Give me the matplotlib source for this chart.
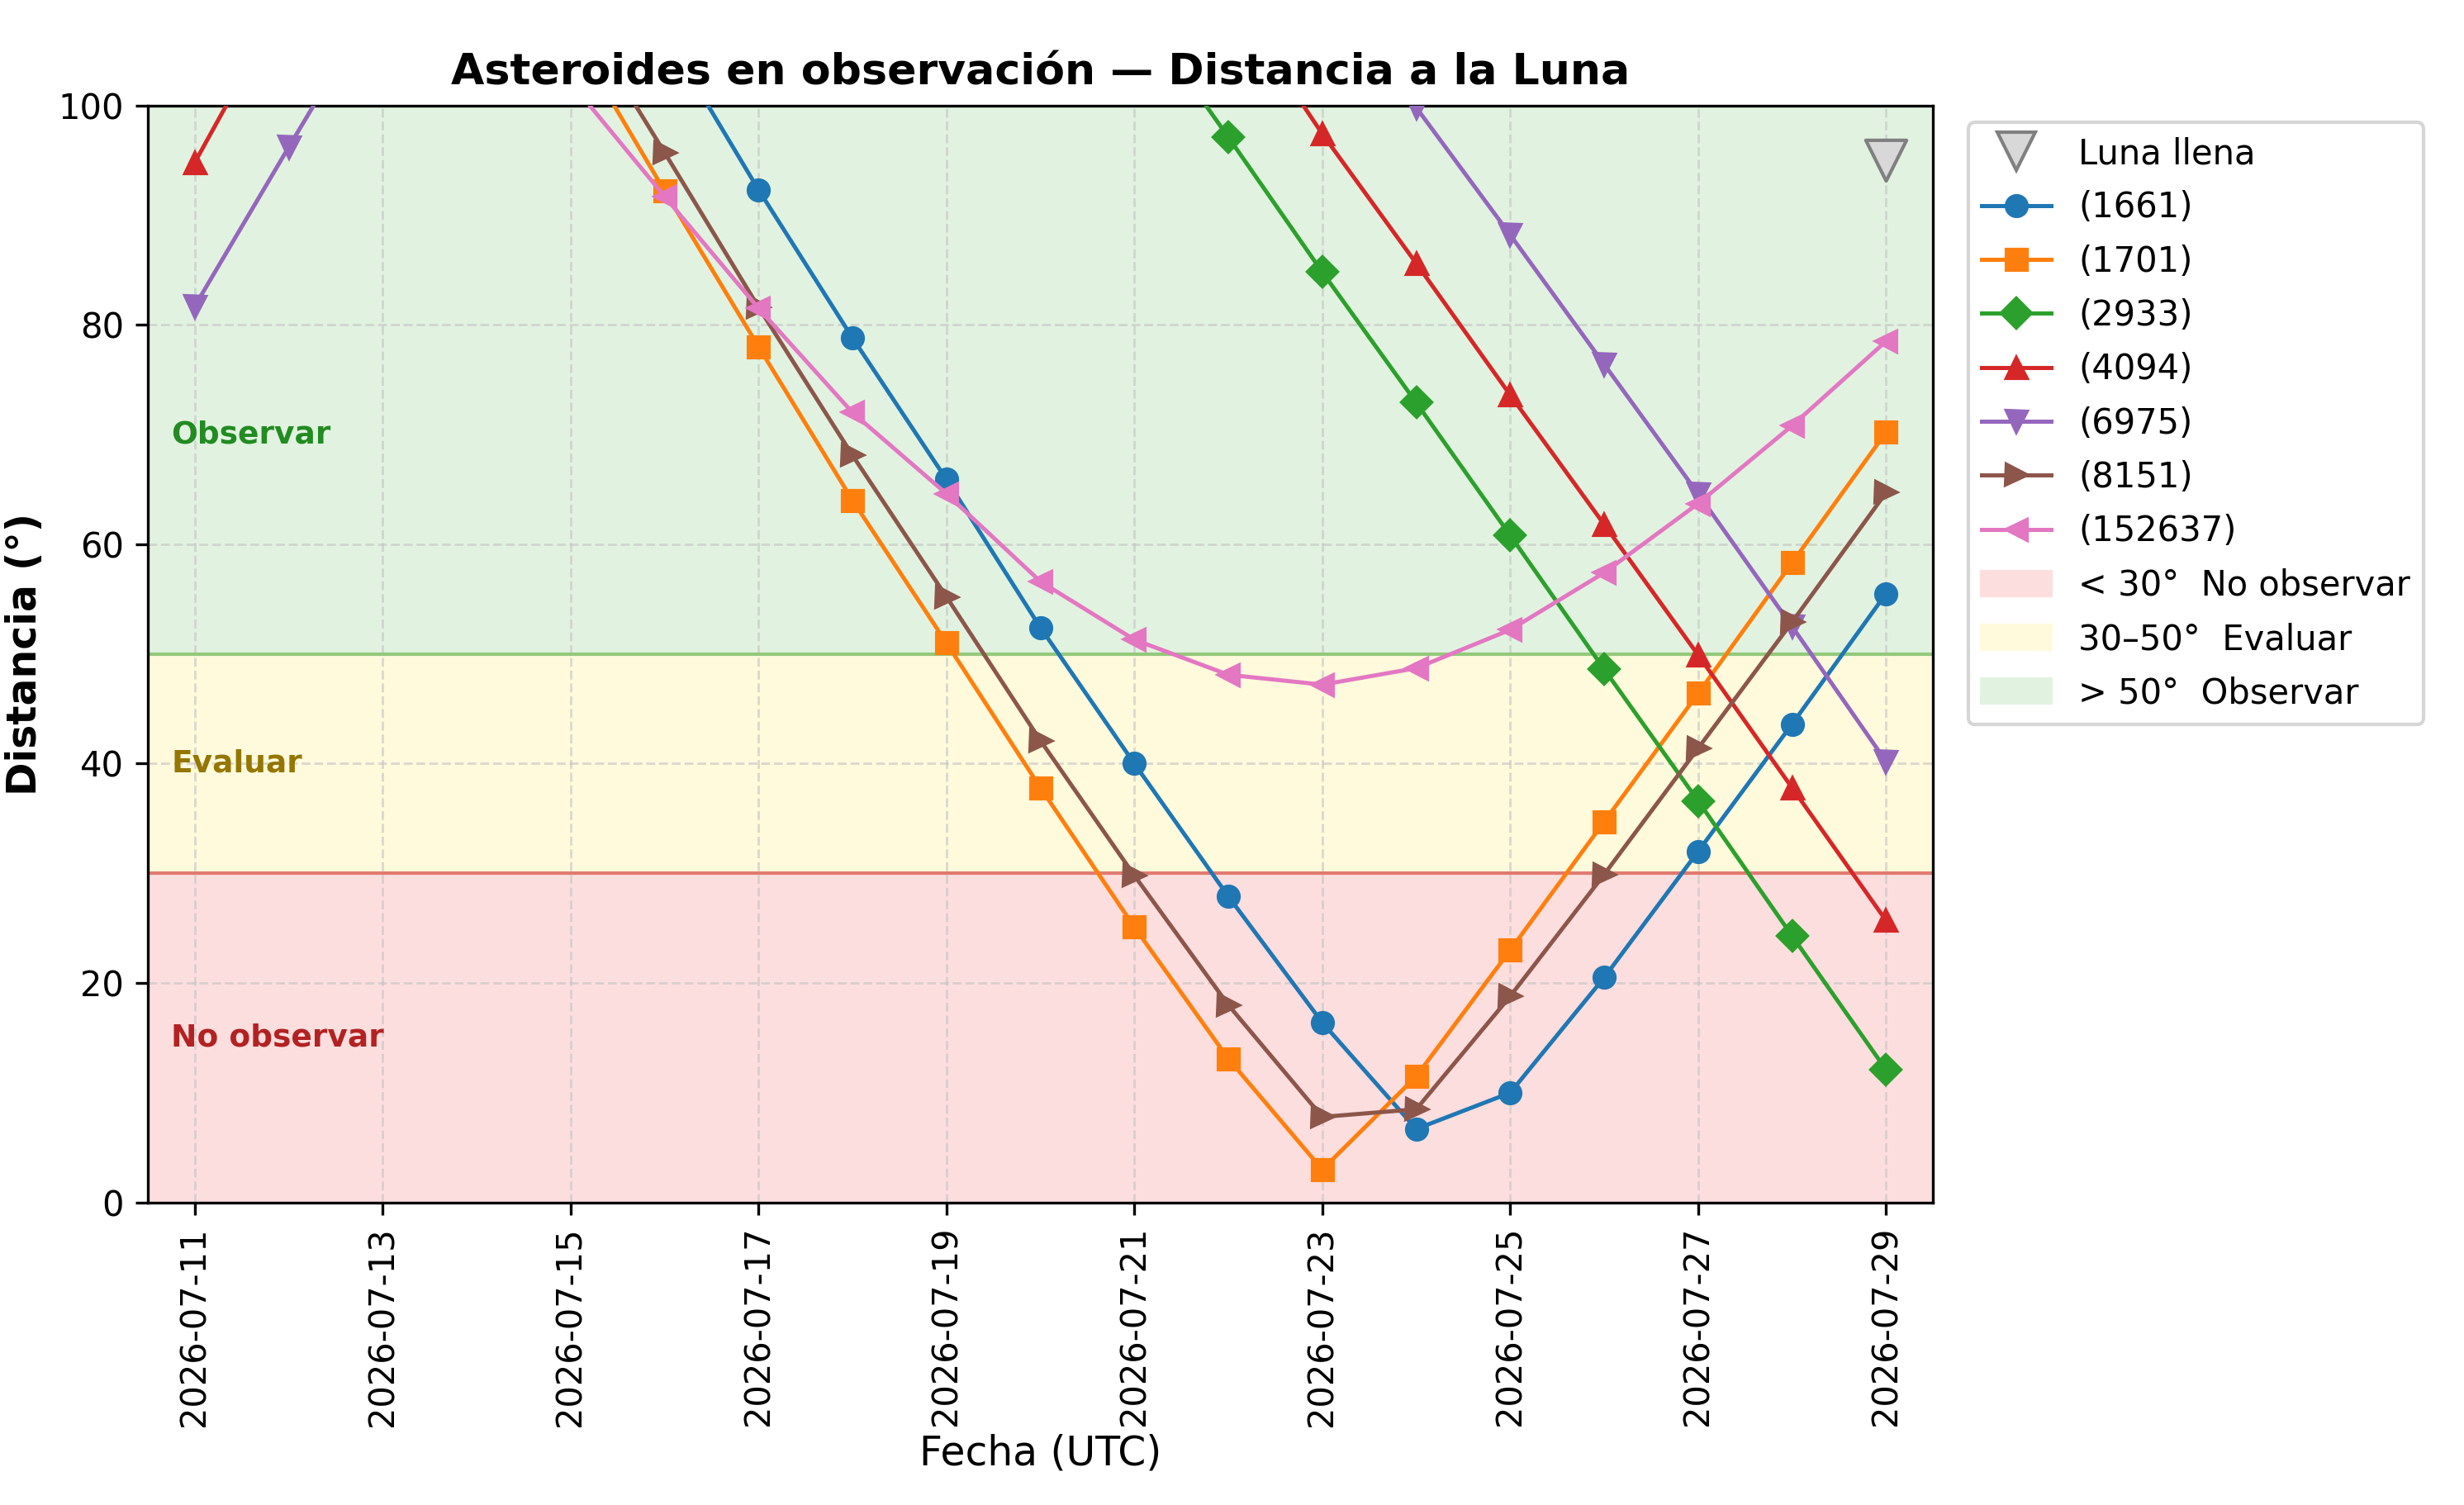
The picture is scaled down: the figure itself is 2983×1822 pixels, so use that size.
# Distancia angular asteroide-Luna, julio 2026
import matplotlib
matplotlib.use("Agg")
from matplotlib import pyplot as plt
import matplotlib.dates as mdates
from matplotlib.patches import Patch
from matplotlib.lines import Line2D
import numpy as np
import pandas as pd

fechas = pd.date_range("2026-07-11", "2026-07-29", freq="D")

# distancia a la Luna (grados), un valor por día
d_1661 = [168, 158, 147, 134, 121, 106.6, 92.3, 78.8, 65.9, 52.4, 40.0, 27.9, 16.4, 6.7, 10.0, 20.5, 32.0, 43.6, 55.5]
d_1701 = [160, 150, 138, 123, 106.7, 92.2, 78.0, 64.0, 51.0, 37.8, 25.1, 13.1, 3.0, 11.5, 23.0, 34.7, 46.4, 58.3, 70.2]
d_2933 = [170, 172, 171, 167, 161, 154, 146, 138, 129, 120, 109.2, 97.1, 84.8, 72.9, 60.8, 48.6, 36.6, 24.3, 12.1]
d_4094 = [94.8, 110.3, 124, 136, 146, 153, 156, 155, 149, 140, 124, 110.2, 97.4, 85.6, 73.6, 61.8, 49.9, 37.8, 25.7]
d_6975 = [81.7, 96.2, 110.5, 124, 136, 146, 152, 153, 149, 141, 131, 121, 111.6, 99.8, 88.2, 76.4, 64.6, 52.5, 40.2]
d_8151 = [165, 152, 138, 124, 109.6, 95.7, 81.6, 68.1, 55.2, 42.1, 29.8, 18.0, 7.8, 8.5, 18.8, 29.9, 41.4, 52.9, 64.7]
d_152637 = [150, 138, 126, 114, 102.1, 91.7, 81.5, 72.0, 64.6, 56.6, 51.3, 48.1, 47.2, 48.7, 52.2, 57.4, 63.7, 70.8, 78.5]

nombres = ["(1661)", "(1701)", "(2933)", "(4094)", "(6975)", "(8151)", "(152637)"]
series = [d_1661, d_1701, d_2933, d_4094, d_6975, d_8151, d_152637]
marcadores = ["o", "s", "D", "^", "v", ">", "<"]

luna_llena = pd.Timestamp("2026-07-29")
luna_y = 95

fig = plt.figure(figsize=(2983 / 300, 1822 / 300), dpi=300)
ax = fig.add_axes([0.060, 0.201, 0.7245, 0.729])

c_rojo = "#fddede"
c_amarillo = "#fffadc"
c_verde = "#e1f3e0"
ax.axhspan(0, 30, color=c_rojo, zorder=0, lw=0)
ax.axhspan(30, 50, color=c_amarillo, zorder=0, lw=0)
ax.axhspan(50, 100, color=c_verde, zorder=0, lw=0)
ax.axhline(30, color="#e07a70", lw=1, zorder=1)
ax.axhline(50, color="#93c97c", lw=1, zorder=1)

ax.grid(True, linestyle="--", color="#c4c4c4", alpha=0.6, lw=0.7, zorder=1)
ax.set_axisbelow(True)

for nombre, valores, m in zip(nombres, series, marcadores):
    ax.plot(fechas, valores, marker=m, ms=6, lw=1.2, label=nombre, zorder=3)

ax.scatter([luna_llena], [luna_y], marker="v", s=140, facecolor="#d8d8d8",
           edgecolor="#808080", lw=1, zorder=4)

trans = ax.get_yaxis_transform()
ax.text(0.013, 70, "Observar", transform=trans, color="#228b22",
        fontsize=9, fontweight="bold", va="center")
ax.text(0.013, 40, "Evaluar", transform=trans, color="#947600",
        fontsize=9, fontweight="bold", va="center")
ax.text(0.013, 15, "No observar", transform=trans, color="#b22222",
        fontsize=9, fontweight="bold", va="center")

ax.set_ylim(0, 100)
ax.set_xlim(pd.Timestamp("2026-07-10 12:00"), pd.Timestamp("2026-07-29 12:00"))
ax.xaxis.set_major_locator(mdates.DayLocator(interval=2))
ax.xaxis.set_major_formatter(mdates.DateFormatter("%Y-%m-%d"))
plt.setp(ax.get_xticklabels(), rotation=90)
ax.tick_params(labelsize=10)

ax.set_title("Asteroides en observación — Distancia a la Luna",
             fontsize=12.5, fontweight="bold")
ax.set_xlabel("Fecha (UTC)", fontsize=11.7, labelpad=2)
ax.set_ylabel("Distancia (°)", fontsize=11.7, fontweight="bold")

handles, labels = ax.get_legend_handles_labels()
luna_h = Line2D([], [], marker="v", ls="none", ms=11, markerfacecolor="#d8d8d8",
                markeredgecolor="#808080")
zonas = [Patch(color=c_rojo, label="< 30°  No observar"),
         Patch(color=c_amarillo, label="30–50°  Evaluar"),
         Patch(color=c_verde, label="> 50°  Observar")]
ax.legend([luna_h] + handles + zonas,
          ["Luna llena"] + labels + [p.get_label() for p in zonas],
          loc="upper left", bbox_to_anchor=(1.01, 1), fontsize=10,
          labelspacing=0.56)

fig.savefig("out.png", dpi=300)
